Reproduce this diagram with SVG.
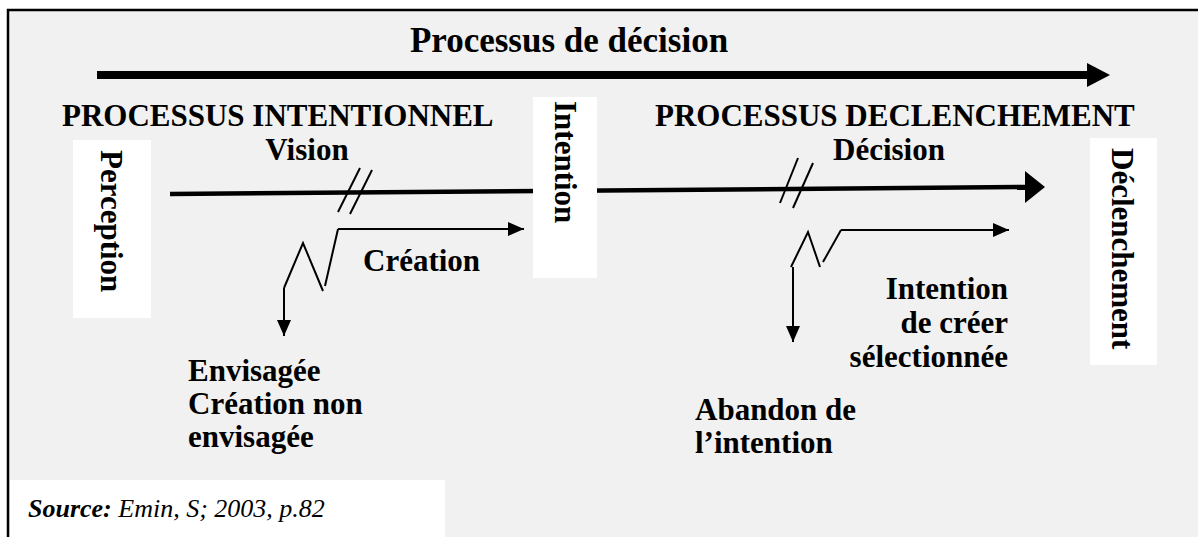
<svg xmlns="http://www.w3.org/2000/svg" width="1198" height="537" viewBox="0 0 1198 537">
  <defs>
    <style>
      .lbl{font-family:"Liberation Serif","Times New Roman",serif;font-weight:bold;font-size:31px;fill:#000}
      .mid{text-anchor:middle}
      .end{text-anchor:end}
      .box{fill:#fff;stroke:none}
      .thin{stroke:#000;stroke-width:2;fill:none}
      .thick{stroke:#000;fill:none}
      .src{font-family:"Liberation Serif","Times New Roman",serif;font-style:italic;font-size:26px;fill:#000}
    </style>
    <marker id="tip" markerUnits="userSpaceOnUse" markerWidth="18" markerHeight="16" refX="16" refY="8" orient="auto">
      <path d="M0,1 L16,8 L0,15 Z" fill="#000"/>
    </marker>
  </defs>

  <!-- page and frame -->
  <rect width="1198" height="537" fill="#fff"/>
  <rect x="8" y="10" width="1200" height="540" fill="#f1f1f1" stroke="#000" stroke-width="2.5"/>

  <!-- overall decision process -->
  <g id="decision-process">
    <text class="lbl mid" x="569" y="52" style="font-size:35px">Processus de décision</text>
    <line class="thick" x1="97" y1="75" x2="1089" y2="75" stroke-width="8"/>
    <polygon points="1087,63 1110,75 1087,87" fill="#000"/>
  </g>

  <g id="phase-titles">
    <text class="lbl" x="62" y="126">PROCESSUS INTENTIONNEL</text>
    <text class="lbl" x="655" y="126">PROCESSUS DECLENCHEMENT</text>
    <text class="lbl mid" x="307" y="160">Vision</text>
    <text class="lbl mid" x="889" y="160">Décision</text>
  </g>

  <!-- connectors -->
  <g id="connectors">
    <line class="thick" x1="170" y1="194" x2="1028" y2="187" stroke-width="4.5"/>
    <polygon points="1025,171 1045,187 1025,203" fill="#000"/>
    <!-- break marks -->
    <line class="thin" x1="360" y1="168" x2="338" y2="212"/>
    <line class="thin" x1="372" y1="170" x2="350" y2="214"/>
    <line class="thin" x1="798" y1="158" x2="780" y2="203"/>
    <line class="thin" x1="813" y1="163" x2="793" y2="208"/>
    <!-- left branch -->
    <polyline class="thin" points="284,288 303,243 323,291"/>
    <line class="thin" x1="325" y1="286" x2="338" y2="229"/>
    <line class="thin" x1="338" y1="229" x2="524" y2="229" marker-end="url(#tip)"/>
    <line class="thin" x1="284" y1="288" x2="284" y2="336" marker-end="url(#tip)"/>
    <!-- right branch -->
    <polyline class="thin" points="791,267 808,232 820,267"/>
    <line class="thin" x1="823" y1="262" x2="841" y2="230"/>
    <line class="thin" x1="841" y1="230" x2="1009" y2="230" marker-end="url(#tip)"/>
    <line class="thin" x1="793" y1="267" x2="793" y2="342" marker-end="url(#tip)"/>
  </g>

  <g id="perception">
    <rect class="box" x="73" y="140" width="78" height="178"/>
    <text class="lbl" transform="translate(101,150) rotate(90)">Perception</text>
  </g>

  <g id="intention">
    <rect class="box" x="533" y="97" width="64" height="181"/>
    <text class="lbl" transform="translate(555,101) rotate(90)">Intention</text>
  </g>

  <g id="declenchement">
    <rect class="box" x="1090" y="138" width="67" height="227"/>
    <text class="lbl" transform="translate(1112,148) rotate(90)">Déclenchement</text>
  </g>

  <g id="creation">
    <text class="lbl" x="363" y="271">Création</text>
  </g>

  <g id="non-envisagee">
    <text class="lbl" x="188" y="381">Envisagée</text>
    <text class="lbl" x="188" y="414">Création non</text>
    <text class="lbl" x="188" y="447">envisagée</text>
  </g>

  <g id="intention-selectionnee">
    <text class="lbl end" x="1008" y="299">Intention</text>
    <text class="lbl end" x="1008" y="333">de créer</text>
    <text class="lbl end" x="1008" y="367">sélectionnée</text>
  </g>

  <g id="abandon">
    <text class="lbl" x="695" y="420">Abandon de</text>
    <text class="lbl" x="695" y="453">l’intention</text>
  </g>

  <g id="source">
    <rect class="box" x="10" y="480" width="435" height="57"/>
    <text class="src" x="28" y="517"><tspan font-weight="bold">Source:</tspan> Emin, S; 2003, p.82</text>
  </g>
</svg>
